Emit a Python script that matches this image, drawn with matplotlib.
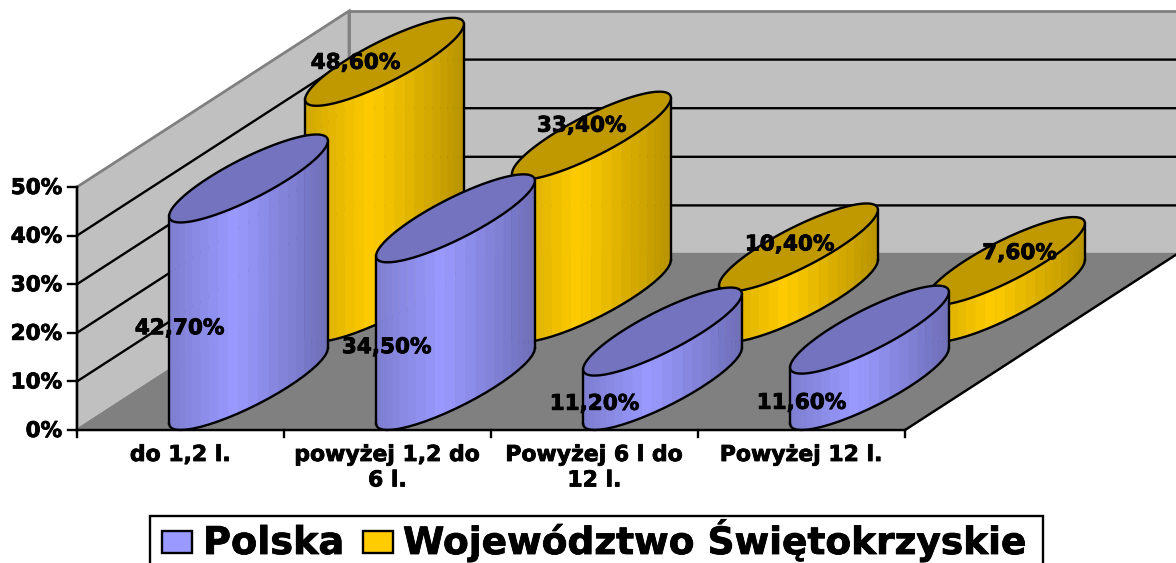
import numpy as np
import matplotlib
matplotlib.use("Agg")
import matplotlib.pyplot as plt
import matplotlib.patheffects as pe
from matplotlib.patches import Polygon, Rectangle

categories = ["do 1,2 l.", "powyżej 1,2 do\n6 l.", "Powyżej 6 l do\n12 l.", "Powyżej 12 l."]
polska = [42.7, 34.5, 11.2, 11.6]
swietokrzyskie = [48.6, 33.4, 10.4, 7.6]
y_ticks = [0, 10, 20, 30, 40, 50]
series_names = ["Polska", "Województwo Świętokrzyskie"]

# nudges of the value labels, in pixels
polska_label_shift = [(-1, 2), (-1, 1), (0, 1), (0, 1)]
gold_label_shift = [(-29, 1), (-10, -10), (-9, -3), (14, -8)]

# oblique projection of the 3d box
X0, Y0 = 77, 430
CAT_W = 207
DEPTH_X, DEPTH_Y = 272, 176
PX_PER_PCT = 4.86
HALF_W = 41
HALF_DEPTH = 0.25
LW = 1.7

plt.rcParams["font.family"] = ["DejaVu Sans"]
plt.rcParams["font.weight"] = "bold"

heavy = [pe.withStroke(linewidth=0.6, foreground="black")]


def project(cat, value, depth):
    return (X0 + cat * CAT_W + depth * DEPTH_X,
            Y0 - value * PX_PER_PCT - depth * DEPTH_Y)


def ellipse_point(cx, cy, t):
    vx = HALF_DEPTH * DEPTH_X
    vy = HALF_DEPTH * DEPTH_Y
    return cx + HALF_W * np.cos(t) + vx * np.sin(t), cy - vy * np.sin(t)


def draw_cylinder(ax, cat, value, depth, side, top, z):
    cx, cy = project(cat + 0.5, 0, depth)
    tx, ty = project(cat + 0.5, value, depth)
    t0 = np.arctan2(HALF_DEPTH * DEPTH_X, HALF_W)
    # front half, from the left silhouette to the right one
    ts = np.linspace(t0 - np.pi, t0, 25)
    xs, ys = ellipse_point(cx, cy, ts)
    xt, yt = ellipse_point(tx, ty, ts)
    span = xs.max() - xs.min()
    for i in range(len(ts) - 1):
        frac = ((xs[i] + xs[i + 1]) / 2 - xs.min()) / span
        shade = np.interp(frac, [0, 0.42, 1], [0.82, 1.0, 0.72])
        color = np.array(matplotlib.colors.to_rgb(side)) * shade
        ax.add_patch(Polygon([(xs[i], ys[i]), (xs[i + 1], ys[i + 1]),
                              (xt[i + 1], yt[i + 1]), (xt[i], yt[i])],
                             facecolor=color, edgecolor=color, lw=0.4, zorder=z))
    ax.plot(xs, ys, color="black", lw=LW, zorder=z + 0.1)
    ax.plot([xs[0], xt[0]], [ys[0], yt[0]], color="black", lw=LW, zorder=z + 0.1)
    ax.plot([xs[-1], xt[-1]], [ys[-1], yt[-1]], color="black", lw=LW, zorder=z + 0.1)
    full = np.linspace(0, 2 * np.pi, 120)
    ex, ey = ellipse_point(tx, ty, full)
    ax.add_patch(Polygon(np.column_stack([ex, ey]), closed=True, facecolor=top,
                         edgecolor="black", lw=LW, zorder=z + 0.2))


def main():
    fig = plt.figure(figsize=(11.76, 5.63), dpi=100)
    ax = fig.add_axes([0, 0, 1, 1])
    ax.set_xlim(0, 1176)
    ax.set_ylim(563, 0)
    ax.axis("off")

    n = len(categories)
    top_val = y_ticks[-1]

    # walls and floor
    ax.add_patch(Polygon([project(0, 0, 0), project(0, 0, 1), project(0, top_val, 1), project(0, top_val, 0)],
                         facecolor="#C0C0C0", edgecolor="#808080", lw=2, zorder=1))
    ax.add_patch(Polygon([project(0, 0, 1), project(4, 0, 1), project(4, top_val, 1), project(0, top_val, 1)],
                         facecolor="#C0C0C0", edgecolor="#808080", lw=2, zorder=1))
    ax.add_patch(Polygon([project(0, 0, 0), project(4, 0, 0), project(4, 0, 1), project(0, 0, 1)],
                         facecolor="#808080", edgecolor="#808080", lw=LW, zorder=1.5))

    # grid lines, wall then back
    for v in y_ticks[1:-1]:
        a, b, c = project(0, v, 0), project(0, v, 1), project(n, v, 1)
        ax.plot([a[0], b[0], c[0]], [a[1], b[1], c[1]], color="black", lw=LW, zorder=2)

    # back row first so the front row covers it
    for i, v in enumerate(swietokrzyskie):
        draw_cylinder(ax, i, v, 0.75, "#FFCC00", "#C09900", 3 + i)
    for i, v in enumerate(polska):
        draw_cylinder(ax, i, v, 0.25, "#9999FF", "#7373BF", 8 + i)

    # axes
    a, b = project(0, 0, 0), project(0, top_val, 0)
    ax.plot([a[0], b[0]], [a[1], b[1]], color="black", lw=LW, zorder=14)
    a, b = project(0, 0, 0), project(n, 0, 0)
    ax.plot([a[0], b[0]], [a[1], b[1]], color="black", lw=LW, zorder=14)
    a, b = project(n, 0, 0), project(n, 0, 1)
    ax.plot([a[0], b[0]], [a[1], b[1]], color="black", lw=LW, zorder=14)
    for v in y_ticks:
        x, y = project(0, v, 0)
        ax.plot([x - 9, x], [y, y], color="black", lw=LW, zorder=14)
        ax.text(x - 15, y + 1, f"{v}%", ha="right", va="center", fontsize=15.5, zorder=15, path_effects=heavy)
    for i in range(n + 1):
        x, y = project(i, 0, 0)
        ax.plot([x, x], [y, y + 7], color="black", lw=LW, zorder=14)
    for i, name in enumerate(categories):
        x, y = project(i + 0.5, 0, 0)
        ax.text(x, y + 15, name, ha="center", va="top", fontsize=15.8, linespacing=1.34, zorder=15, path_effects=heavy)

    # value labels
    for i, v in enumerate(polska):
        x, y = project(i + 0.5, v / 2, 0)
        dx, dy = polska_label_shift[i]
        ax.text(x + dx, y + dy, f"{v:.2f}%".replace(".", ","), ha="center", va="center",
                fontsize=15.5, zorder=16, path_effects=heavy)
    for i, v in enumerate(swietokrzyskie):
        x, y = project(i + 0.5, v, 0.75)
        dx, dy = gold_label_shift[i]
        ax.text(x + dx, y + dy, f"{v:.2f}%".replace(".", ","), ha="center", va="center",
                fontsize=15.5, zorder=16, path_effects=heavy)

    # legend
    ax.add_patch(Rectangle((150, 516), 893, 60, facecolor="white", edgecolor="black", lw=LW, zorder=20))
    ax.add_patch(Rectangle((162, 531), 30, 22, facecolor="#9999FF", edgecolor="black", lw=LW, zorder=21))
    ax.add_patch(Rectangle((363, 531), 30, 22, facecolor="#FFCC00", edgecolor="black", lw=LW, zorder=21))
    ax.text(203, 554, series_names[0], ha="left", va="baseline", fontsize=27.5, zorder=21, path_effects=heavy)
    ax.text(403, 554, series_names[1], ha="left", va="baseline", fontsize=27, zorder=21, path_effects=heavy)

    fig.savefig("out.png", dpi=100)


if __name__ == "__main__":
    main()
